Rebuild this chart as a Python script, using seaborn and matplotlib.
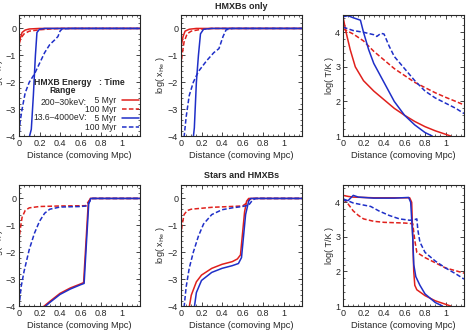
import numpy as np
import pandas as pd
import seaborn as sns
import matplotlib.pyplot as plt
from matplotlib.ticker import MultipleLocator, FuncFormatter

# ---- data ----
# top row: HMXBs only
xh_top = {
    "r5":   ([0, 0.01, 0.03, 0.06, 0.1, 0.2, 1.18], [-0.65, -0.4, -0.15, -0.06, -0.02, 0, 0]),
    "r100": ([0, 0.02, 0.05, 0.1, 0.2, 0.3, 0.4, 1.18], [-0.55, -0.35, -0.2, -0.1, -0.05, -0.02, 0, 0]),
    "b5":   ([0.10, 0.12, 0.14, 0.16, 0.175, 0.2, 0.25, 1.18], [-4.05, -3.75, -2.5, -1.0, -0.15, -0.03, 0, 0]),
    "b100": ([0.0, 0.01, 0.03, 0.06, 0.1, 0.15, 0.2, 0.25, 0.3, 0.35, 0.38, 0.4, 0.42, 0.5, 1.18],
             [-4.1, -3.5, -3.0, -2.4, -2.0, -1.7, -1.3, -0.9, -0.6, -0.42, -0.3, -0.1, -0.02, 0, 0]),
}
xhe_top = {
    "r5":   ([0, 0.02, 0.04, 0.08, 0.15, 1.18], [-0.7, -0.3, -0.1, -0.03, 0, 0]),
    "r100": ([0, 0.01, 0.03, 0.06, 0.1, 0.2, 0.3, 1.18], [-1.4, -1.0, -0.5, -0.2, -0.1, -0.03, 0, 0]),
    "b5":   ([0.12, 0.13, 0.15, 0.17, 0.19, 0.22, 0.3, 1.18], [-4.05, -3.7, -2.0, -1.0, -0.2, -0.03, 0, 0]),
    "b100": ([0.03, 0.05, 0.08, 0.12, 0.17, 0.25, 0.32, 0.37, 0.41, 0.44, 0.5, 1.18],
             [-4.05, -3.3, -2.5, -2.0, -1.6, -1.2, -0.9, -0.75, -0.3, -0.05, 0, 0]),
}
t_top = {
    "r5":   ([0, 0.03, 0.07, 0.12, 0.2, 0.3, 0.4, 0.5, 0.6, 0.7, 0.8, 0.9, 1.0, 1.05],
             [4.45, 4.0, 3.5, 3.0, 2.6, 2.3, 2.05, 1.8, 1.6, 1.42, 1.27, 1.15, 1.05, 1.0]),
    "r100": ([0, 0.1, 0.2, 0.3, 0.4, 0.5, 0.6, 0.7, 0.8, 0.9, 1.0, 1.1, 1.18],
             [4.1, 3.95, 3.75, 3.45, 3.2, 2.95, 2.75, 2.55, 2.4, 2.25, 2.12, 2.0, 1.9]),
    "b5":   ([0, 0.05, 0.1, 0.17, 0.2, 0.25, 0.3, 0.4, 0.5, 0.6, 0.7, 0.8, 0.87],
             [4.45, 4.48, 4.42, 4.35, 4.0, 3.5, 3.1, 2.55, 2.0, 1.6, 1.32, 1.1, 1.0]),
    "b100": ([0, 0.1, 0.2, 0.3, 0.33, 0.37, 0.4, 0.45, 0.5, 0.6, 0.7, 0.8, 0.9, 1.0, 1.1, 1.18],
             [4.15, 4.05, 4.0, 3.93, 3.88, 3.97, 3.95, 3.6, 3.3, 2.95, 2.6, 2.3, 2.1, 1.95, 1.8, 1.65]),
}
# bottom row: stars and HMXBs
xh_bot = {
    "r5":   ([0.23, 0.3, 0.4, 0.5, 0.6, 0.63, 0.655, 0.675, 0.695, 1.18],
             [-4.05, -3.83, -3.53, -3.33, -3.18, -3.13, -1.5, -0.2, 0, 0]),
    "r100": ([0, 0.01, 0.03, 0.06, 0.1, 0.2, 0.4, 0.65, 0.68, 0.7, 1.18],
             [-1.6, -1.2, -0.7, -0.45, -0.35, -0.3, -0.28, -0.27, -0.1, 0, 0]),
    "b5":   ([0.245, 0.3, 0.4, 0.5, 0.6, 0.635, 0.66, 0.68, 0.7, 1.18],
             [-4.05, -3.87, -3.57, -3.37, -3.21, -3.16, -1.5, -0.2, 0, 0]),
    "b100": ([0, 0.02, 0.05, 0.1, 0.15, 0.2, 0.25, 0.3, 0.4, 0.6, 0.66, 0.7, 0.72, 1.18],
             [-4.05, -3.3, -2.7, -1.9, -1.3, -0.85, -0.55, -0.4, -0.32, -0.3, -0.28, -0.05, 0, 0]),
}
xhe_bot = {
    "r5":   ([0.08, 0.1, 0.15, 0.2, 0.3, 0.4, 0.5, 0.55, 0.58, 0.6, 0.62, 0.64, 0.66, 1.18],
             [-4.05, -3.6, -3.1, -2.85, -2.6, -2.45, -2.35, -2.25, -2.1, -1.3, -0.5, -0.1, 0, 0]),
    "r100": ([0, 0.01, 0.03, 0.06, 0.1, 0.3, 0.6, 0.63, 0.66, 0.7, 1.18],
             [-1.4, -1.0, -0.6, -0.45, -0.4, -0.33, -0.28, -0.2, -0.05, 0, 0]),
    "b5":   ([0.13, 0.15, 0.2, 0.3, 0.4, 0.5, 0.56, 0.59, 0.61, 0.63, 0.66, 0.68, 1.18],
             [-4.05, -3.5, -3.05, -2.75, -2.6, -2.5, -2.42, -2.2, -1.4, -0.6, -0.1, 0, 0]),
    "b100": ([0.03, 0.05, 0.08, 0.12, 0.17, 0.22, 0.3, 0.4, 0.5, 0.6, 0.66, 0.7, 0.73, 1.18],
             [-4.05, -3.3, -2.6, -2.0, -1.4, -0.95, -0.6, -0.42, -0.35, -0.3, -0.25, -0.05, 0, 0]),
}
t_bot = {
    "r5":   ([0, 0.05, 0.1, 0.3, 0.5, 0.65, 0.67, 0.68, 0.69, 0.7, 0.72, 0.8, 0.9, 1.0, 1.05],
             [4.2, 4.17, 4.15, 4.13, 4.13, 4.13, 4.0, 3.0, 2.0, 1.6, 1.47, 1.3, 1.15, 1.05, 1.0]),
    "r100": ([0, 0.05, 0.1, 0.15, 0.2, 0.3, 0.4, 0.6, 0.68, 0.7, 0.72, 0.8, 0.9, 1.0, 1.1, 1.18],
             [4.1, 3.95, 3.75, 3.62, 3.52, 3.45, 3.42, 3.4, 3.38, 2.9, 2.55, 2.4, 2.25, 2.1, 2.02, 1.95]),
    "b5":   ([0, 0.05, 0.1, 0.15, 0.3, 0.5, 0.64, 0.66, 0.68, 0.69, 0.71, 0.75, 0.8, 0.9, 0.97],
             [4.05, 4.05, 4.2, 4.15, 4.12, 4.12, 4.14, 4.0, 3.0, 2.2, 1.85, 1.6, 1.35, 1.1, 1.0]),
    "b100": ([0, 0.1, 0.2, 0.27, 0.35, 0.45, 0.55, 0.65, 0.7, 0.72, 0.73, 0.75, 0.8, 0.9, 1.0, 1.1, 1.18],
             [4.1, 3.98, 3.92, 3.88, 3.75, 3.62, 3.52, 3.48, 3.5, 3.52, 3.2, 2.85, 2.55, 2.3, 2.1, 1.93, 1.78]),
}

series_order = ["r5", "r100", "b5", "b100"]
colors = {"r5": "#e0201c", "r100": "#e0201c", "b5": "#1f2fc8", "b100": "#1f2fc8"}
dashes = {"r5": "-", "r100": (0, (3, 1.5)), "b5": "-", "b100": (0, (3, 1.5))}

sns.set_style("ticks")
plt.rcParams['font.family'] = ['Liberation Sans', 'DejaVu Sans']
plt.rcParams['font.size'] = 6.5
plt.rcParams['axes.linewidth'] = 0.8

fig = plt.figure(figsize=(4.67, 3.31), dpi=100)
lefts = [19 / 467, 181 / 467, 343 / 467]
bottoms = [1 - 136 / 331, 1 - 306 / 331]
w, h = 121 / 467, 121 / 331

panels = [[xh_top, xhe_top, t_top], [xh_bot, xhe_bot, t_bot]]
ylabels = [r"log( x$_{\rm H}$ )", r"log( x$_{\rm He}$ )", "log( T/K )"]

fmt = FuncFormatter(lambda v, p: ("%g" % v).replace("-", "\u2212"))

axes = []
for r in range(2):
    row = []
    for c in range(3):
        ax = fig.add_axes([lefts[c], bottoms[r], w, h])
        data = panels[r][c]
        for key in series_order:
            xs, ys = data[key]
            sns.lineplot(x=xs, y=ys, ax=ax, color=colors[key], linestyle=dashes[key],
                         linewidth=1.1, estimator=None, sort=False)
        ax.set_xlim(0, 1.18)
        if c < 2:
            ax.set_ylim(-4, 0.5)
        else:
            ax.set_ylim(1, 4.5)
        ax.yaxis.set_major_locator(MultipleLocator(1))
        ax.yaxis.set_minor_locator(MultipleLocator(0.2))
        ax.xaxis.set_major_locator(MultipleLocator(0.2))
        ax.xaxis.set_minor_locator(MultipleLocator(0.05))
        ax.xaxis.set_major_formatter(fmt)
        ax.yaxis.set_major_formatter(fmt)
        ax.tick_params(which='both', direction='in', top=True, right=True, labelsize=6.5, pad=2)
        ax.tick_params(which='major', length=3, width=0.6)
        ax.tick_params(which='minor', length=1.5, width=0.5)
        ax.set_xlabel("Distance (comoving Mpc)", fontsize=6.7, labelpad=2)
        ax.set_ylabel(ylabels[c], fontsize=6.5, labelpad=1)
        row.append(ax)
    axes.append(row)

axes[0][1].set_title("HMXBs only", fontsize=6.5, fontweight='bold', pad=4)
axes[1][1].set_title("Stars and HMXBs", fontsize=6.5, fontweight='bold', pad=5)

# legend in first panel
ax0 = axes[0][0]
ax0.text(0.36, 0.41, "HMXB Energy\nRange", transform=ax0.transAxes, fontsize=6.2,
         fontweight='bold', ha='center', va='center', multialignment='center', linespacing=0.95)
ax0.text(0.66, 0.44, ": Time", transform=ax0.transAxes, fontsize=6.2, fontweight='bold',
         ha='left', va='center')
ax0.text(0.56, 0.28, "200\u201330keV:", transform=ax0.transAxes, fontsize=6.2, ha='right', va='center')
ax0.text(0.56, 0.149, "13.6\u20134000eV:", transform=ax0.transAxes, fontsize=6.2, ha='right', va='center')

handles = ax0.get_lines()[:4]
labels = ["\u2007\u20075 Myr", "100 Myr", "\u2007\u20075 Myr", "100 Myr"]
ax0.legend(handles, labels, loc='upper right', bbox_to_anchor=(0.99, 0.33), frameon=False,
           markerfirst=False, fontsize=6.2, handlelength=2.0, handletextpad=0.6,
           labelspacing=0.0, borderpad=0, borderaxespad=0)

fig.savefig("out.png", dpi=100)
